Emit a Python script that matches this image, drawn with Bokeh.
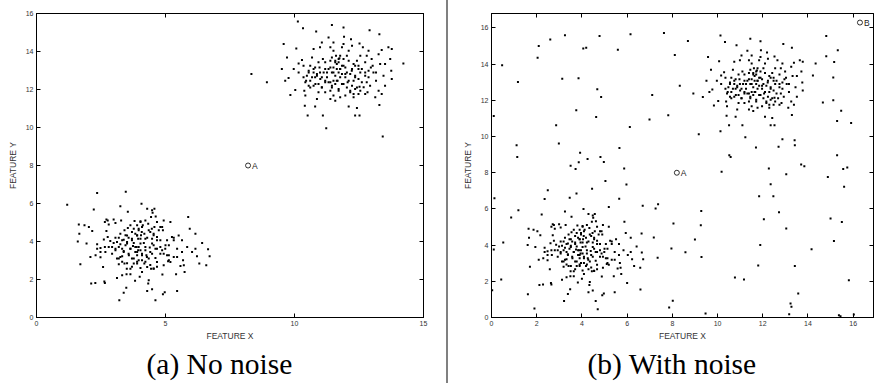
from bokeh.plotting import figure
from bokeh.models import FixedTicker, LinearAxis, Spacer
from bokeh.layouts import row
from bokeh.core.properties import value
from bokeh.embed import file_html
from bokeh.resources import INLINE

# ---------------- data ----------------
lower_cluster = [
    (1.19, 5.93), (2.35, 6.55), (3.46, 6.62), (2.22, 5.69), (1.64, 4.90), (1.66, 4.41), (1.60, 4.00),
    (1.86, 4.85), (2.03, 4.76), (2.16, 4.55), (1.94, 3.89), (1.70, 2.80), (2.12, 1.79), (2.28, 1.82),
    (2.65, 1.82), (2.63, 1.90), (3.21, 0.91), (3.38, 1.30), (3.48, 1.56), (4.29, 1.40), (4.48, 1.49),
    (4.61, 0.91), (4.90, 1.23), (4.97, 1.33), (5.45, 1.40), (4.33, 1.79), (4.35, 1.96), (3.12, 2.08),
    (3.32, 2.22), (3.49, 2.28), (3.64, 2.28), (3.82, 1.93), (4.00, 2.14), (4.09, 2.40), (4.03, 2.60),
    (3.50, 2.56), (3.64, 2.56), (3.19, 2.80), (3.19, 3.10), (3.32, 3.22), (2.58, 2.66), (2.48, 3.17),
    (2.09, 3.19), (2.29, 3.27), (2.48, 3.45), (2.65, 3.71), (2.48, 3.66), (2.61, 4.11), (2.76, 4.24),
    (2.71, 4.55), (2.65, 5.02), (2.71, 5.16), (2.76, 5.11), (2.80, 4.90), (2.99, 5.16), (3.06, 4.97),
    (3.28, 5.11), (3.25, 5.86), (3.54, 5.57), (4.07, 5.99), (4.29, 5.72), (4.48, 5.64), (4.57, 5.72),
    (4.50, 5.51), (4.62, 5.32), (4.44, 5.29), (4.33, 4.94), (4.03, 5.02), (3.80, 5.08), (3.64, 4.85),
    (3.77, 4.67), (3.41, 4.59), (3.25, 4.41), (3.51, 4.32), (3.06, 4.20), (3.12, 3.97), (2.93, 3.71),
    (3.06, 3.62), (3.25, 3.85), (3.45, 3.80), (3.64, 3.62), (3.77, 3.92), (3.96, 3.71), (4.16, 3.92),
    (4.03, 4.15), (4.18, 4.41), (4.35, 4.59), (4.54, 4.41), (4.74, 4.59), (4.87, 4.76), (4.93, 5.11),
    (5.19, 5.02), (4.67, 5.02), (4.90, 4.59), (5.06, 4.06), (5.25, 4.24), (5.32, 4.06), (5.45, 3.62),
    (5.64, 4.06), (5.64, 3.45), (5.84, 3.71), (5.88, 5.29), (5.94, 4.67), (6.16, 4.41), (6.16, 3.62),
    (6.42, 3.92), (6.22, 3.22), (6.31, 2.84), (6.58, 2.75), (6.65, 3.59), (6.71, 3.22), (6.03, 3.45),
    (5.71, 2.75), (5.58, 2.71), (5.68, 3.01), (5.74, 2.40), (5.41, 2.28), (5.19, 2.92), (5.10, 2.96),
    (4.93, 2.75), (4.88, 2.26), (4.80, 3.36), (4.61, 3.13), (4.54, 2.57), (4.44, 2.56), (4.29, 2.66),
    (4.18, 2.84), (4.09, 3.01), (3.90, 2.84), (3.77, 2.84), (3.70, 3.10), (3.90, 3.27), (4.09, 3.27),
    (4.26, 3.27), (4.22, 3.54), (4.39, 3.68), (4.48, 3.89), (4.67, 4.06), (4.61, 3.62), (4.80, 3.71),
    (4.99, 3.62), (5.06, 3.27), (5.13, 3.01), (5.32, 3.19), (5.45, 3.19), (3.57, 3.36), (3.38, 3.50),
    (3.51, 3.97), (3.70, 4.06), (3.83, 4.41), (3.96, 4.59), (4.09, 4.76), (3.90, 4.85), (3.12, 3.10),
    (3.41, 2.84), (2.93, 3.36), (2.80, 3.71), (2.67, 3.45), (2.35, 3.85), (2.35, 3.62), (2.86, 4.02),
    (2.99, 3.92), (3.38, 4.09), (3.57, 4.20), (4.48, 3.36), (4.35, 3.10), (4.67, 2.92), (5.32, 4.20),
    (5.51, 4.32), (5.13, 3.80), (4.93, 3.36), (4.03, 3.54), (3.83, 3.45), (3.74, 3.76), (3.32, 3.62),
    (3.19, 4.20), (4.29, 4.20), (4.48, 4.15), (4.57, 4.76), (4.80, 4.76), (3.90, 4.32), (3.70, 4.50),
    (3.54, 4.71), (4.03, 5.06), (4.12, 4.85), (4.22, 5.11), (3.96, 4.67), (4.05, 4.33), (4.22, 4.15),
    (4.41, 4.50), (4.54, 4.33), (4.47, 4.67), (4.67, 4.24), (4.80, 4.06), (4.03, 3.89), (4.22, 3.71),
    (3.94, 3.54), (4.09, 3.36), (4.28, 3.19), (4.41, 3.45), (4.54, 3.80), (4.67, 3.62), (4.22, 2.93),
    (3.96, 3.01), (4.41, 2.76), (4.54, 2.58), (4.67, 2.67), (4.87, 3.54), (5.00, 3.80), (5.13, 3.28),
    (3.94, 4.15), (3.88, 3.71), (4.08, 4.50), (3.32, 4.06), (3.51, 3.89), (3.64, 3.62), (3.83, 3.71),
    (3.38, 3.45), (3.58, 3.28), (3.77, 3.10), (3.90, 2.93), (3.19, 3.71), (3.06, 3.54), (3.70, 4.15),
    (3.90, 4.33), (3.45, 4.33), (3.25, 3.19), (3.51, 2.85), (3.70, 2.67), (3.90, 3.45), (3.32, 2.93),
]

upper_cluster = [
    (8.33, 12.81), (8.93, 12.38), (10.13, 15.58), (10.33, 15.23), (9.58, 14.39), (10.07, 14.16),
    (9.71, 13.69), (9.51, 13.08), (9.64, 12.46), (9.77, 12.60), (9.84, 11.71), (10.03, 11.97),
    (9.97, 13.08), (10.16, 13.37), (10.29, 13.55), (10.35, 13.25), (10.38, 11.94), (10.42, 11.68),
    (10.40, 11.15), (10.51, 10.63), (10.45, 12.46), (10.55, 12.20), (10.68, 13.69), (10.74, 14.13),
    (10.84, 15.05), (10.80, 12.64), (10.80, 11.10), (10.87, 11.50), (10.97, 13.16), (11.06, 12.64),
    (11.10, 13.60), (11.06, 14.48), (11.10, 10.63), (11.23, 9.96), (11.19, 11.85), (11.26, 12.90),
    (11.32, 14.74), (11.45, 15.40), (11.39, 14.22), (11.51, 14.04), (11.58, 13.51), (11.64, 13.08),
    (11.71, 13.43), (11.51, 12.46), (11.45, 12.20), (11.58, 11.41), (11.90, 15.26), (11.92, 14.77),
    (11.84, 14.22), (11.77, 13.78), (11.84, 13.25), (11.77, 12.64), (11.71, 12.03), (11.90, 12.29),
    (12.03, 12.90), (12.10, 13.51), (12.10, 14.04), (12.23, 14.30), (12.29, 13.34), (12.29, 12.46),
    (12.16, 11.94), (12.10, 11.10), (12.42, 11.03), (12.35, 10.63), (12.52, 10.63), (12.48, 11.76),
    (12.52, 12.15), (12.55, 12.90), (12.55, 13.78), (12.52, 14.42), (12.65, 14.22), (12.74, 13.43),
    (12.74, 11.76), (12.80, 12.38), (12.91, 15.12), (12.87, 14.04), (12.96, 13.16), (13.06, 12.90),
    (13.16, 12.46), (13.13, 11.59), (13.29, 11.19), (13.26, 13.86), (13.29, 14.91), (13.38, 14.08),
    (13.42, 9.52), (13.51, 13.34), (13.45, 12.73), (13.64, 14.22), (13.71, 13.60), (13.75, 12.99),
    (13.77, 12.55), (13.77, 14.13), (14.22, 13.37), (13.51, 12.20), (13.38, 11.76), (13.26, 11.94),
    (13.16, 12.90), (12.93, 12.20), (12.68, 12.12), (12.35, 12.03), (12.29, 11.76), (11.97, 11.68),
    (11.77, 11.59), (11.51, 11.68), (11.39, 11.94), (11.32, 12.38), (11.19, 12.46), (11.06, 12.12),
    (10.93, 12.29), (10.74, 12.20), (10.61, 12.46), (10.55, 12.90), (10.74, 12.90), (10.87, 12.73),
    (10.99, 12.90), (11.19, 13.08), (11.39, 13.16), (11.45, 12.90), (11.58, 12.73), (11.67, 12.46),
    (11.84, 12.81), (11.97, 12.64), (12.16, 12.81), (12.23, 13.08), (12.35, 13.25), (12.42, 13.51),
    (12.48, 13.25), (12.61, 13.08), (12.35, 12.73), (12.48, 12.55), (11.97, 13.16), (11.71, 12.90),
    (11.58, 12.29), (11.64, 13.34), (11.74, 13.65), (11.90, 13.60), (12.03, 13.78), (11.61, 13.78),
    (11.39, 13.51), (11.19, 13.43), (10.93, 13.43), (10.80, 13.16), (10.61, 13.25), (10.48, 12.73),
    (10.35, 12.64), (10.16, 12.90), (11.51, 13.16), (11.77, 13.08), (12.06, 12.38), (12.23, 12.20),
    (12.55, 11.94), (12.74, 12.73), (12.87, 12.99), (13.03, 13.25), (12.80, 13.78), (12.99, 13.60),
    (13.32, 13.34), (11.39, 11.50), (12.29, 11.59), (12.83, 11.85), (10.99, 14.22), (11.51, 14.48),
    (12.19, 14.65), (11.90, 14.39), (11.45, 13.69), (11.58, 13.43), (11.71, 13.60), (11.32, 13.08),
    (11.51, 12.90), (11.77, 13.08), (11.90, 13.25), (11.97, 12.81), (11.64, 12.46), (11.84, 12.29),
    (11.39, 12.38), (12.10, 12.46), (12.22, 12.99), (12.35, 12.64), (12.48, 13.08), (12.61, 12.38),
    (11.26, 12.64), (11.45, 12.11), (11.71, 11.94), (12.03, 12.11), (12.16, 11.85), (12.42, 12.11),
    (12.74, 12.90), (12.87, 12.64), (10.55, 12.99), (10.68, 12.64), (10.87, 12.81), (11.00, 12.55),
    (10.81, 12.29), (11.06, 12.11), (11.19, 12.38), (10.42, 12.38), (10.61, 12.11), (10.93, 11.85),
    (11.13, 12.90), (10.74, 13.08),
]

noise = [
    (0.10, 11.14), (0.13, 6.59), (0.10, 3.76), (0.03, 1.51), (0.47, 13.94), (0.52, 4.14), (0.43, 2.10),
    (1.17, 13.02), (1.11, 9.52), (1.14, 8.87), (0.87, 5.52), (2.09, 15.00), (2.04, 14.36), (2.49, 7.03),
    (2.60, 15.37), (2.86, 10.62), (2.98, 9.61), (3.13, 13.20), (3.25, 15.60), (3.50, 8.38), (3.72, 8.21),
    (3.75, 11.45), (3.76, 6.85), (3.85, 13.22), (3.86, 8.58), (3.92, 9.11), (4.06, 14.86), (4.19, 14.91),
    (4.25, 8.76), (4.45, 7.11), (4.63, 11.08), (4.68, 12.61), (4.78, 15.56), (4.85, 12.19), (4.82, 8.87),
    (4.97, 8.60), (5.04, 7.55), (5.19, 6.11), (5.59, 14.80), (5.66, 9.37), (5.65, 6.56), (5.87, 8.23),
    (5.97, 7.35), (6.12, 10.53), (6.15, 15.65), (6.00, 1.91), (6.59, 1.55), (6.69, 6.17), (6.64, 4.64),
    (6.99, 10.94), (7.11, 12.30), (7.18, 4.42), (7.26, 6.02), (7.37, 6.26), (7.35, 3.30), (7.63, 15.72),
    (7.82, 11.18), (7.96, 3.81), (8.05, 5.19), (8.02, 0.92), (7.86, 0.55), (8.11, 14.51), (8.58, 3.61),
    (8.69, 15.28), (9.00, 4.31), (9.17, 10.13), (9.26, 5.10), (9.28, 5.89), (9.29, 3.35), (9.47, 0.22),
    (9.35, 12.19), (10.13, 10.29), (10.18, 8.05), (10.52, 8.97), (10.58, 8.87), (10.77, 2.21),
    (11.17, 2.10), (11.70, 9.39), (11.80, 2.87), (11.84, 6.70), (11.89, 4.00), (12.05, 5.43),
    (12.27, 8.23), (12.35, 7.37), (12.47, 6.70), (12.70, 9.43), (12.87, 9.85), (12.72, 5.82),
    (13.04, 7.92), (13.04, 4.92), (13.23, 0.77), (13.27, 0.59), (13.17, 0.18), (13.41, 9.80),
    (13.42, 2.85), (13.57, 1.33), (13.70, 8.45), (13.84, 8.36), (14.16, 3.77), (14.34, 14.03),
    (14.66, 11.88), (14.81, 15.56), (14.81, 14.44), (14.88, 7.77), (15.00, 5.47), (15.12, 13.26),
    (15.12, 12.00), (15.16, 14.12), (15.15, 4.23), (15.29, 10.86), (15.29, 8.97), (15.32, 14.77),
    (15.37, 0.13), (15.44, 0.07), (15.47, 11.42), (15.50, 5.28), (15.56, 8.21), (15.60, 7.22),
    (15.74, 8.29), (15.81, 2.06), (15.91, 10.75), (16.03, 0.17), (1.61, 1.29), (1.90, 0.50), (4.70, 0.46),
]

point_a = (8.2, 8.0)
point_b = (16.3, 16.3)

left_xticks = [0, 5, 10, 15]
right_xticks = [0, 2, 4, 6, 8, 10, 12, 14, 16]
yticks = [0, 2, 4, 6, 8, 10, 12, 14, 16]

x_label = "FEATURE X"
y_label = "FEATURE Y"
captions = ["(a) No noise", "(b) With noise"]

# ---------------- helpers ----------------
SANS = "Liberation Sans"


def style_axes(p, xt, yt):
    p.grid.visible = False
    p.outline_line_color = "black"
    p.outline_line_width = 1
    p.background_fill_color = "white"
    p.border_fill_color = "white"
    p.xaxis.ticker = FixedTicker(ticks=xt)
    p.yaxis.ticker = FixedTicker(ticks=yt)
    for ax in (p.xaxis[0], p.yaxis[0]):
        ax.major_tick_in = 4
        ax.major_tick_out = 0
        ax.minor_tick_line_color = None
        ax.axis_line_color = "black"
        ax.major_tick_line_color = "black"
        ax.major_label_text_font = SANS
        ax.major_label_text_font_size = "7px"
        ax.major_label_text_color = "#333333"
        ax.major_label_standoff = 3
        ax.axis_label_text_font = SANS
        ax.axis_label_text_font_size = "8.5px"
        ax.axis_label_text_font_style = "normal"
        ax.axis_label_text_color = "#333333"
    p.xaxis.axis_label = x_label
    p.yaxis.axis_label = y_label
    p.xaxis.axis_label_standoff = 2
    p.yaxis.axis_label_standoff = 5
    # mirrored ticks on top and right (box on), labels hidden
    for place, ticks in (("above", xt), ("right", yt)):
        ax = LinearAxis(ticker=FixedTicker(ticks=ticks), major_label_text_font_size="1px",
                        major_label_text_color=None, major_label_standoff=0,
                        major_tick_in=4, major_tick_out=0,
                        minor_tick_line_color=None, axis_line_color="black",
                        major_tick_line_color="black")
        p.add_layout(ax, place)


def add_caption(p, text, offset):
    p.title.text = text
    p.title_location = "below"
    p.title.align = "left"
    p.title.offset = offset
    p.title.standoff = 5
    p.title.text_font = "Liberation Serif"
    p.title.text_font_size = "29.5px"
    p.title.text_font_style = "normal"
    p.title.text_color = "black"


def add_points(p, pts):
    xs = [q[0] for q in pts]
    ys = [q[1] for q in pts]
    p.scatter(xs, ys, marker="square", size=2, fill_color="black", line_color=None)


def add_marker(p, pt, name):
    p.scatter([pt[0]], [pt[1]], marker="circle", size=5, fill_color=None,
              line_color="black", line_width=0.8)
    p.text([pt[0]], [pt[1]], text=[name], x_offset=4, text_baseline="middle", text_align="left",
           text_font=value(SANS), text_font_size="8.5px", text_color="#222222")


# ---------------- left panel ----------------
p1 = figure(width=446, height=383, x_range=(0, 15), y_range=(0, 16),
            min_border_left=36, min_border_right=23, min_border_top=13, min_border_bottom=66,
            output_backend="svg", toolbar_location=None)
style_axes(p1, left_xticks, yticks)
add_points(p1, lower_cluster)
add_points(p1, upper_cluster)
add_marker(p1, point_a, "A")
add_caption(p1, captions[0], 110)

# ---------------- right panel ----------------
p2 = figure(width=427, height=383, x_range=(0, 16.9), y_range=(0, 16.8),
            min_border_left=43, min_border_right=2, min_border_top=13, min_border_bottom=66,
            output_backend="svg", toolbar_location=None)
style_axes(p2, right_xticks, yticks)
add_points(p2, lower_cluster)
add_points(p2, upper_cluster)
add_points(p2, noise)
add_marker(p2, point_a, "A")
add_marker(p2, point_b, "B")
add_caption(p2, captions[1], 96)

divider = Spacer(width=2, height=383, margin=0, styles={"background-color": "#808080"})

layout = row(p1, divider, p2, spacing=0)

open("out.html", "w").write(file_html(layout, INLINE))
